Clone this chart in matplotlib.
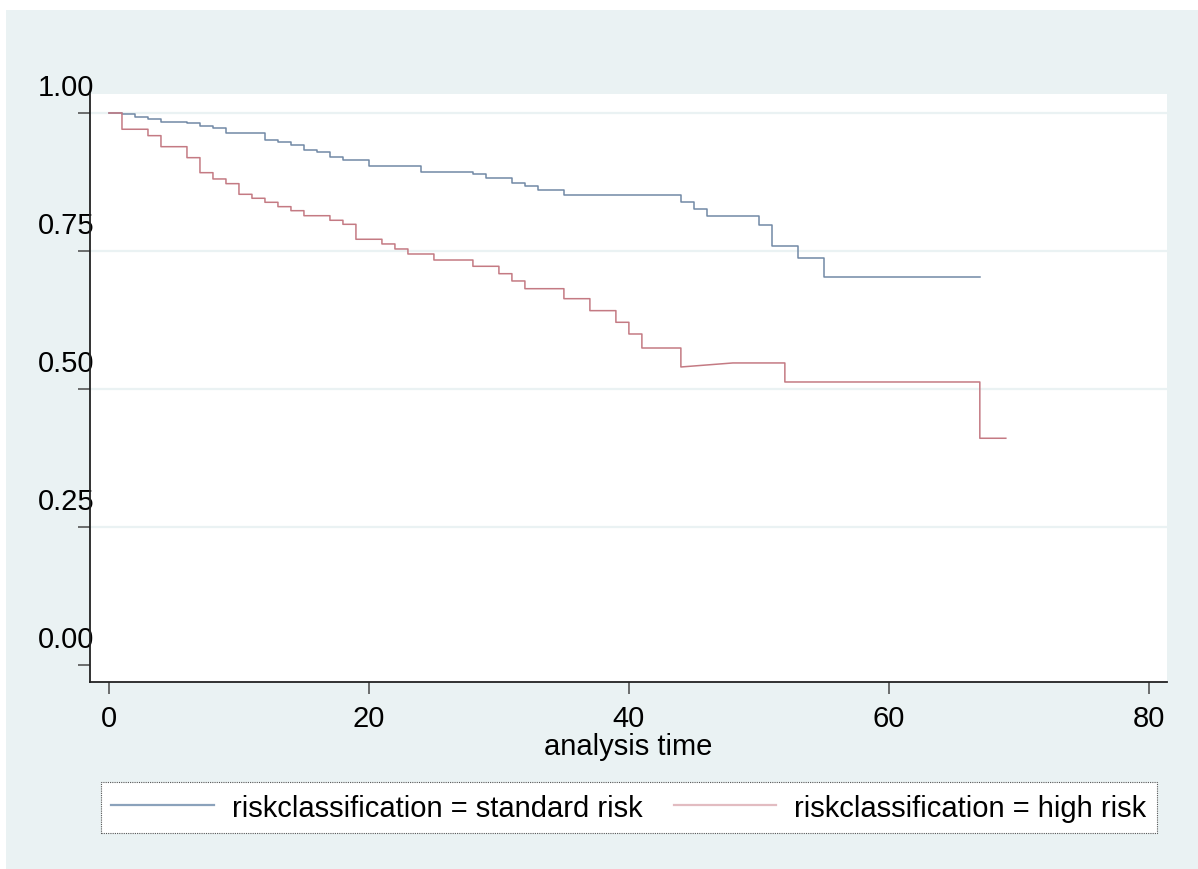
import numpy as np
import matplotlib
matplotlib.use("Agg")
import matplotlib.pyplot as plt
from matplotlib.lines import Line2D
from matplotlib.patches import Rectangle
from matplotlib.transforms import ScaledTranslation

# Kaplan-Meier estimates
tempo_padrao = [0, 1, 2, 3, 4, 6, 7, 8, 9, 12, 13, 14, 15, 16, 17, 18, 20, 24,
                28, 29, 31, 32, 33, 35, 44, 45, 46, 50, 51, 53, 55, 67]
surv_padrao = [1.0, 0.9976, 0.9922, 0.9886, 0.9842, 0.9813, 0.9770, 0.9728,
               0.9638, 0.9516, 0.9469, 0.9425, 0.9335, 0.9298, 0.9202, 0.9153,
               0.9045, 0.8931, 0.8889, 0.8816, 0.8737, 0.8677, 0.8604, 0.8514,
               0.8392, 0.8260, 0.8134, 0.7975, 0.7595, 0.7366, 0.7022, 0.7022]

tempo_alto = [0, 1, 3, 4, 6, 7, 8, 9, 10, 11, 12, 13, 14, 15, 17, 18, 19, 21,
              22, 23, 25, 28, 30, 31, 32, 35, 37, 39, 40, 41, 44, 48, 52, 67, 69]
surv_alto = [1.0, 0.9705, 0.9589, 0.9389, 0.9190, 0.8918, 0.8804, 0.8719,
             0.8526, 0.8454, 0.8381, 0.8302, 0.8229, 0.8138, 0.8055, 0.7982,
             0.7711, 0.7626, 0.7535, 0.7444, 0.7335, 0.7221, 0.7087, 0.6955,
             0.6815, 0.6634, 0.6417, 0.6206, 0.5994, 0.5740, 0.5396, 0.5469,
             0.5124, 0.4104, 0.4104]
rampa_alto = {31}  # segmento inclinado entre t=44 e t=48

rotulos = ["riskclassification = standard risk", "riskclassification = high risk"]
yticks = [0, 0.25, 0.5, 0.75, 1.0]
ytick_labels = ["0.00", "0.25", "0.50", "0.75", "1.00"]
xticks = [0, 20, 40, 60, 80]


def degraus(t, s, rampa=()):
    xs, ys = [t[0]], [s[0]]
    for i in range(1, len(t)):
        if i in rampa:
            xs.append(t[i]); ys.append(s[i])
        else:
            xs += [t[i], t[i]]
            ys += [s[i - 1], s[i]]
    return xs, ys


plt.rcParams['font.family'] = ['Liberation Sans', 'DejaVu Sans']

fig = plt.figure(figsize=(11.98, 8.69), dpi=100, facecolor="white")
W, H = 1198, 869
fig.patches.append(Rectangle((6 / W, 0), 1 - 6 / W, (H - 10) / H,
                             transform=fig.transFigure, facecolor="#EAF2F3",
                             edgecolor="none", zorder=-10))

ax = fig.add_axes([90 / W, (H - 682) / H, 1077 / W, 588 / H])
ax.set_facecolor("white")

cor_azul = "#7189a6"
cor_verm = "#c47a83"

x, y = degraus(tempo_padrao, surv_padrao)
ax.plot(x, y, color=cor_azul, lw=1.1)
x, y = degraus(tempo_alto, surv_alto, rampa_alto)
ax.plot(x, y, color=cor_verm, lw=1.1)

ax.set_xlim(-1.46, 81.4)
ax.set_ylim(-0.0314, 1.0344)

ax.set_yticks(yticks)
ax.set_yticklabels(ytick_labels, fontsize=21)
ax.set_xticks(xticks)
ax.set_xticklabels([str(v) for v in xticks], fontsize=21)

# linhas de grade (sem a do zero)
for v in yticks[1:]:
    ax.axhline(v, color="#EAF2F3", lw=1.6, zorder=0)

for lado in ["top", "right"]:
    ax.spines[lado].set_visible(False)
for lado in ["left", "bottom"]:
    ax.spines[lado].set_color("#222222")
    ax.spines[lado].set_linewidth(1.3)

ax.tick_params(axis="y", length=8.6, width=1.2, color="#555555", pad=0)
ax.tick_params(axis="x", length=8.6, width=1.2, color="#555555", pad=8)

# rótulos do eixo y deslocados para cima, como no Stata
desloc = ScaledTranslation(0.16, 0.28, fig.dpi_scale_trans)
for rot in ax.get_yticklabels():
    rot.set_transform(rot.get_transform() + desloc)

ax.set_xlabel("analysis time", fontsize=21, labelpad=0)

handles = [Line2D([], [], color="#8ba2bb", lw=1.6),
           Line2D([], [], color="#e2bcc1", lw=1.6)]
leg = fig.legend(handles, rotulos, loc="center",
                 bbox_to_anchor=(629 / W, (H - 807.5) / H), ncol=2,
                 fontsize=21, handlelength=3.5, handletextpad=0.62,
                 handleheight=1.22, columnspacing=1.1, borderpad=0.35,
                 frameon=True, fancybox=False, framealpha=1)
leg.get_frame().set_facecolor("white")
leg.get_frame().set_edgecolor("#555555")
leg.get_frame().set_linestyle((0, (1, 1)))
leg.get_frame().set_linewidth(0.8)

fig.savefig("out.png", dpi=100, facecolor=fig.get_facecolor())
